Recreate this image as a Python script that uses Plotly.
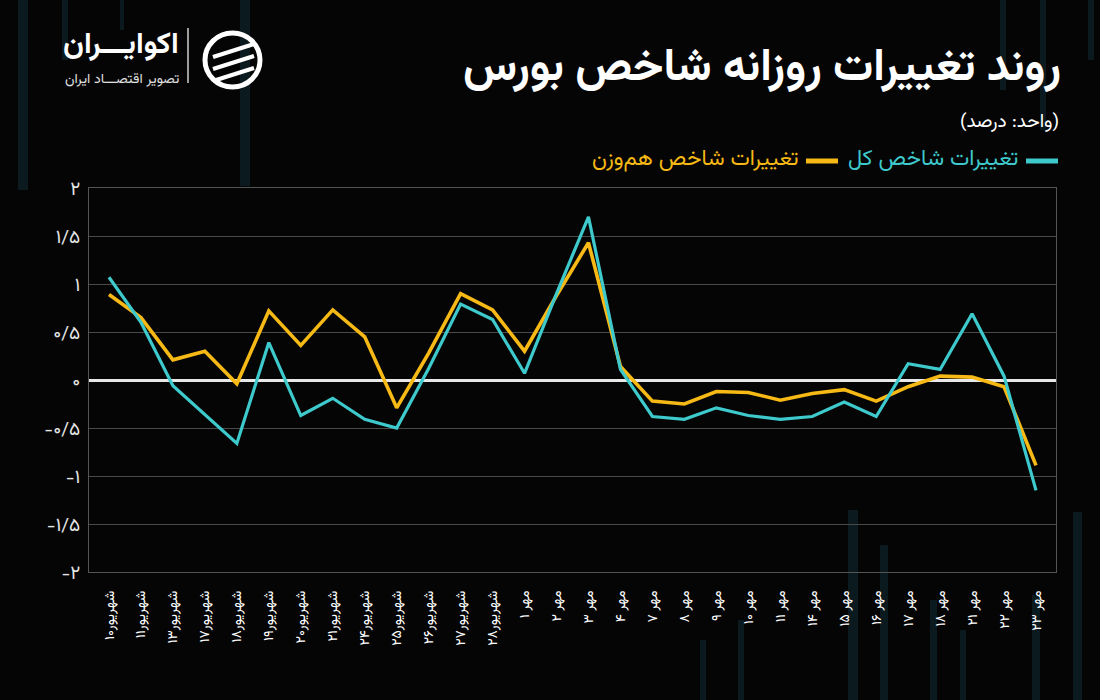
import plotly.graph_objects as go

# ---------------- data ----------------
categories = [
    "شهریور۱۰", "شهریور۱۱", "شهریور۱۳", "شهریور۱۷", "شهریور۱۸", "شهریور۱۹",
    "شهریور۲۰", "شهریور۲۱", "شهریور۲۴", "شهریور۲۵", "شهریور۲۶", "شهریور۲۷",
    "شهریور۲۸", "مهر ۱", "مهر ۲", "مهر ۳", "مهر ۴", "مهر ۷", "مهر ۸", "مهر ۹",
    "مهر ۱۰", "مهر ۱۱", "مهر ۱۴", "مهر ۱۵", "مهر ۱۶", "مهر ۱۷", "مهر ۱۸",
    "مهر ۲۱", "مهر ۲۲", "مهر ۲۳",
]
total_index = [
    1.07, 0.60, -0.06, -0.36, -0.66, 0.39, -0.37, -0.19, -0.41, -0.50,
    0.12, 0.79, 0.63, 0.07, 0.90, 1.70, 0.11, -0.38, -0.41, -0.29,
    -0.37, -0.41, -0.38, -0.23, -0.38, 0.17, 0.11, 0.69, 0.04, -1.15,
]
equal_weight = [
    0.89, 0.65, 0.21, 0.30, -0.04, 0.72, 0.36, 0.73, 0.45, -0.29,
    0.28, 0.90, 0.73, 0.30, 0.88, 1.43, 0.14, -0.22, -0.25, -0.12,
    -0.13, -0.21, -0.14, -0.10, -0.22, -0.07, 0.04, 0.03, -0.07, -0.89,
]
y_tickvals = [2, 1.5, 1, 0.5, 0, -0.5, -1, -1.5, -2]
y_ticktext = ["۲", "۱/۵", "۱", "۰/۵", "۰", "-۰/۵", "-۱", "-۱/۵", "-۲"]

title_text = "روند تغییرات روزانه شاخص بورس"
unit_text = "(واحد: درصد)"
name_total = "تغییرات شاخص کل"
name_equal = "تغییرات شاخص هم‌وزن"
logo_text = "اکوایـــران"
logo_sub = "تصویر اقتصـــاد ایران"

CYAN = "#3ec9cc"
YELLOW = "#f6b915"
BG = "#050505"
FONT = "Vazirmatn, DejaVu Sans, sans-serif"

W, H = 1100, 700
ML, MR, MT, MB = 89, 44, 188, 128
PW, PH = W - ML - MR, H - MT - MB


def px(x):
    return (x - ML) / PW


def py(y):
    return (H - MB - y) / PH


x_idx = list(range(len(categories)))

fig = go.Figure()
fig.add_trace(go.Scatter(x=x_idx, y=equal_weight, mode="lines", name=name_equal,
                         line=dict(color=YELLOW, width=3.6), showlegend=False))
fig.add_trace(go.Scatter(x=x_idx, y=total_index, mode="lines", name=name_total,
                         line=dict(color=CYAN, width=3.2), showlegend=False))

shapes = []
# decorative faint background bars
bars = [
    (18, 28, 0, 190), (62, 68, 0, 60), (240, 250, 0, 186), (120, 124, 0, 30),
    (1000, 1006, 0, 90), (1040, 1046, 0, 130), (1088, 1094, 0, 60),
    (848, 858, 510, 700), (880, 888, 545, 700), (930, 937, 600, 700),
    (960, 966, 630, 700), (1032, 1040, 595, 700), (1073, 1082, 512, 700),
    (700, 706, 640, 700), (738, 744, 620, 700),
]
for x0, x1, y0, y1 in bars:
    shapes.append(dict(type="rect", xref="paper", yref="paper",
                       x0=px(x0), x1=px(x1), y0=py(y1), y1=py(y0),
                       fillcolor="rgba(25,75,90,0.30)", line=dict(width=0), layer="below"))

# legend dashes (right-to-left legend)
shapes.append(dict(type="line", xref="paper", yref="paper",
                   x0=px(1026), x1=px(1058), y0=py(161), y1=py(161),
                   line=dict(color=CYAN, width=5)))
shapes.append(dict(type="line", xref="paper", yref="paper",
                   x0=px(806), x1=px(838), y0=py(161), y1=py(161),
                   line=dict(color=YELLOW, width=5)))
# logo separator
shapes.append(dict(type="line", xref="paper", yref="paper",
                   x0=px(188), x1=px(188), y0=py(28), y1=py(83),
                   line=dict(color="#d0d0d0", width=1.5)))
# logo icon (approximation)
shapes.append(dict(type="circle", xref="paper", yref="paper",
                   x0=px(205), x1=px(260), y0=py(87), y1=py(33),
                   line=dict(color="white", width=5)))
for k in range(3):
    yy = 48 + k * 12
    shapes.append(dict(type="line", xref="paper", yref="paper",
                       x0=px(213), x1=px(254), y0=py(yy + 9), y1=py(yy - 4),
                       line=dict(color="white", width=4)))

annotations = [
    dict(text=f"<b>{title_text}</b>", xref="paper", yref="paper",
         x=px(1063), y=py(69), xanchor="right", yanchor="middle",
         showarrow=False, font=dict(size=45, color="white", family=FONT)),
    dict(text=unit_text, xref="paper", yref="paper",
         x=px(1061), y=py(122), xanchor="right", yanchor="middle",
         showarrow=False, font=dict(size=19, color="white", family=FONT)),
    dict(text=name_total, xref="paper", yref="paper",
         x=px(1021), y=py(160), xanchor="right", yanchor="middle",
         showarrow=False, font=dict(size=22, color=CYAN, family=FONT)),
    dict(text=name_equal, xref="paper", yref="paper",
         x=px(801), y=py(160), xanchor="right", yanchor="middle",
         showarrow=False, font=dict(size=22, color=YELLOW, family=FONT)),
    dict(text=f"<b>{logo_text}</b>", xref="paper", yref="paper",
         x=px(181), y=py(45), xanchor="right", yanchor="middle",
         showarrow=False, font=dict(size=30, color="white", family=FONT)),
    dict(text=logo_sub, xref="paper", yref="paper",
         x=px(181), y=py(80), xanchor="right", yanchor="middle",
         showarrow=False, font=dict(size=14, color="#e0e0e0", family=FONT)),
]

fig.update_layout(
    width=W, height=H,
    paper_bgcolor=BG, plot_bgcolor="rgba(0,0,0,0)",
    margin=dict(l=ML, r=MR, t=MT, b=MB),
    font=dict(family=FONT, color="white"),
    shapes=shapes, annotations=annotations,
    showlegend=False,
)
fig.update_xaxes(
    range=[-0.625, len(categories) - 0.375],
    tickmode="array", tickvals=x_idx, ticktext=categories,
    tickangle=-90, tickfont=dict(size=14, color="white", family=FONT),
    showgrid=False, zeroline=False,
    showline=True, linecolor="#555", linewidth=1, mirror=True,
    ticks="", ticklabelstandoff=12,
)
fig.update_yaxes(
    range=[-2, 2],
    tickmode="array", tickvals=y_tickvals, ticktext=y_ticktext,
    tickfont=dict(size=19, color="#e6e6e6", family=FONT),
    showgrid=True, gridcolor="#4a4a4a", gridwidth=1,
    zeroline=True, zerolinecolor="#e8e8e8", zerolinewidth=2.5,
    showline=True, linecolor="#555", linewidth=1, mirror=True,
    ticks="", ticklabelstandoff=4,
)

fig.write_html("out.html")
